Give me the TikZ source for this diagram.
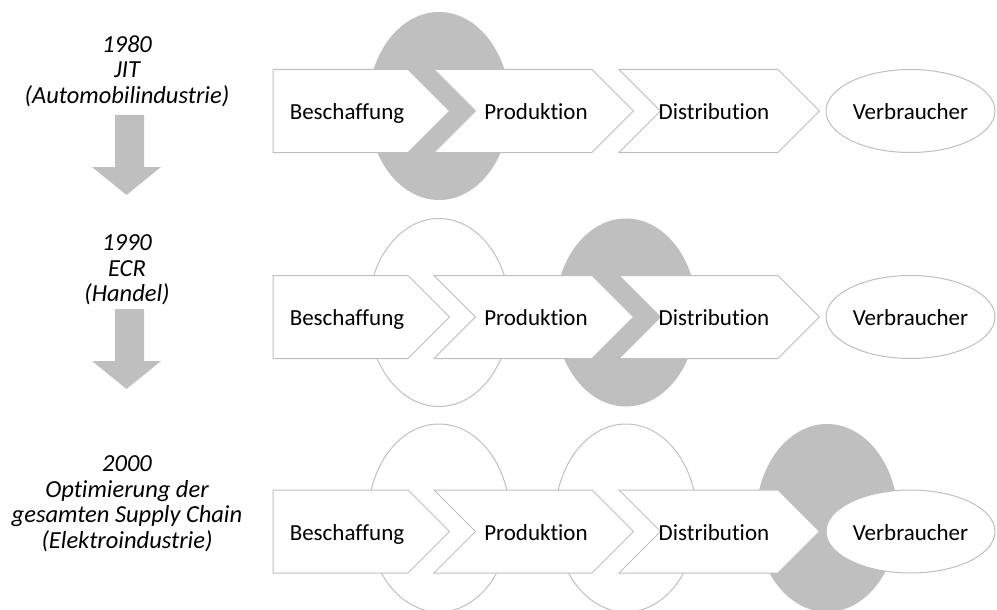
\documentclass[tikz,border=0pt]{standalone}
\usepackage{fontspec}
\setmainfont{Carlito}[Ligatures=NoCommon]
\usepackage{xcolor}
\usetikzlibrary{shapes.geometric}
\definecolor{softgray}{HTML}{BFBFBF}

\begin{document}
\begin{tikzpicture}[x=1pt, y=-1pt,
    era/.style={align=center, font=\fontsize{24.5}{25.5}\selectfont\itshape},
    lbl/.style={font=\fontsize{23}{26}\selectfont, text height=20pt, text depth=3pt},
    chev/.style={draw=softgray, fill=white, line width=1pt},
    ring/.style={draw=softgray, line width=1pt},
    blob/.style={fill=softgray},
    cons/.style={ellipse, draw=softgray, fill=white, line width=1pt, inner sep=0pt,
        minimum width=169pt, minimum height=83pt, text height=20pt, text depth=3pt,
        font=\fontsize{23}{26}\selectfont}]
    \useasboundingbox (0,0) rectangle (997,610);

    % left column
    \node[era] (e1) at (127,71) {1980\\JIT\\(Automobilindustrie)};
    \node[era] (e2) at (127,270) {1990\\ECR\\(Handel)};
    \node[era] (e3) at (127,503.5) {2000\\Optimierung der\\gesamten Supply Chain\\(Elektroindustrie)};

    \foreach \a in {115,309}
        \fill[softgray] (115,\a) -- (144,\a) -- (144,\a+52) -- (161,\a+52) -- (126.5,\a+80)
            -- (92,\a+52) -- (115,\a+52) -- cycle;

    % focus ellipses
    \fill[blob] (439,106) ellipse [x radius=71, y radius=94];
    \draw[ring] (439,312.5) ellipse [x radius=71, y radius=94];
    \fill[blob] (626,312.5) ellipse [x radius=71, y radius=94];
    \draw[ring] (439,518) ellipse [x radius=71, y radius=94];
    \draw[ring] (626,518) ellipse [x radius=71, y radius=94];
    \fill[blob] (827,518) ellipse [x radius=71, y radius=94];

    % chains
    \foreach \r/\y in {1/111, 2/317, 3/531.5} {
        \draw[chev] (273,\y-41.5) -- (408,\y-41.5) -- (449.5,\y) -- (408,\y+41.5)
            -- (273,\y+41.5) -- cycle;
        \draw[chev] (434,\y-41.5) -- (592,\y-41.5) -- (633.5,\y) -- (592,\y+41.5)
            -- (434,\y+41.5) -- (475.5,\y) -- cycle;
        \draw[chev] (619,\y-41.5) -- (778,\y-41.5) -- (819.5,\y) -- (778,\y+41.5)
            -- (619,\y+41.5) -- (660.5,\y) -- cycle;
        \node[lbl] (b\r) at (347,\y) {Beschaffung};
        \node[lbl] (p\r) at (536,\y) {Produktion};
        \node[lbl] (d\r) at (714,\y) {Distribution};
        \node[cons] (v\r) at (910.5,\y) {Verbraucher};
    }
\end{tikzpicture}
\end{document}
